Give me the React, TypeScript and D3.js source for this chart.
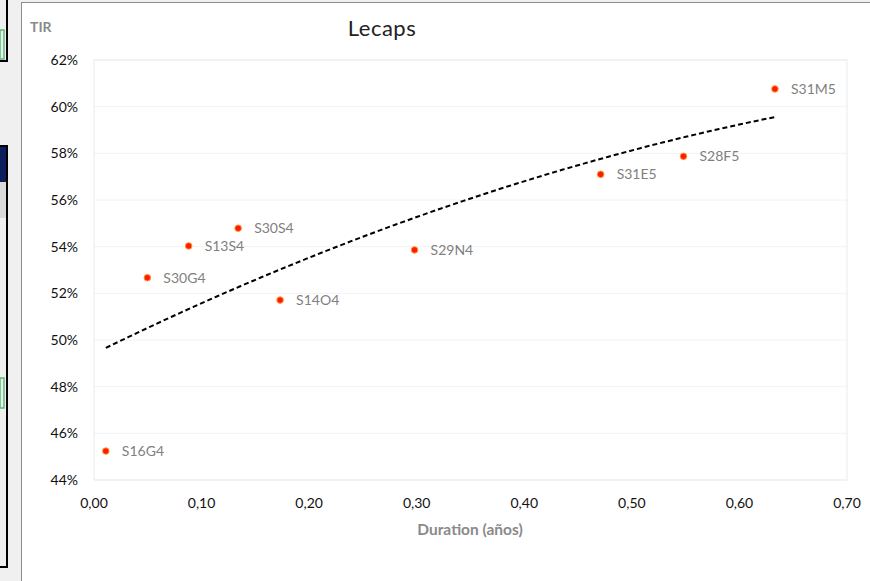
import React from "react";
import * as d3 from "d3";

const labels = ["S16G4", "S30G4", "S13S4", "S30S4", "S14O4", "S29N4", "S31E5", "S28F5", "S31M5"];
const duration = [0.011, 0.0496, 0.088, 0.134, 0.173, 0.298, 0.471, 0.548, 0.633];
const tir = [45.24, 52.67, 54.03, 54.79, 51.71, 53.86, 57.1, 57.87, 60.76];
const xTicks = [0, 0.1, 0.2, 0.3, 0.4, 0.5, 0.6, 0.7];
const yTicks = [44, 46, 48, 50, 52, 54, 56, 58, 60, 62];

// quadratic least-squares trendline computed from the data (as Excel does)
function quadFit(xs: number[], ys: number[]) {
  const n = xs.length;
  let s1 = 0, s2 = 0, s3 = 0, s4 = 0, t0 = 0, t1 = 0, t2 = 0;
  for (let i = 0; i < n; i++) {
    const x = xs[i], y = ys[i];
    s1 += x; s2 += x * x; s3 += x * x * x; s4 += x * x * x * x;
    t0 += y; t1 += x * y; t2 += x * x * y;
  }
  const M = [
    [n, s1, s2, t0],
    [s1, s2, s3, t1],
    [s2, s3, s4, t2],
  ];
  for (let i = 0; i < 3; i++) {
    for (let k = i + 1; k < 3; k++) {
      const f = M[k][i] / M[i][i];
      for (let j = i; j < 4; j++) M[k][j] -= f * M[i][j];
    }
  }
  const c = [0, 0, 0];
  for (let i = 2; i >= 0; i--) {
    let s = M[i][3];
    for (let j = i + 1; j < 3; j++) s -= M[i][j] * c[j];
    c[i] = s / M[i][i];
  }
  return (x: number) => c[0] + c[1] * x + c[2] * x * x;
}

export default function App() {
  const W = 870, H = 581;
  const x = d3.scaleLinear().domain([0, 0.7]).range([94, 847]);
  const y = d3.scaleLinear().domain([44, 62]).range([480, 60]);
  const f = quadFit(duration, tir);
  const xmin = d3.min(duration)!, xmax = d3.max(duration)!;
  const trendPts = d3.range(0, 61).map((i) => {
    const xv = xmin + ((xmax - xmin) * i) / 60;
    return [xv, f(xv)] as [number, number];
  });
  const line = d3.line<[number, number]>().x((d) => x(d[0])).y((d) => y(d[1]));
  const font = "Lato, 'Open Sans', sans-serif";
  const fmtX = (v: number) => v.toFixed(2).replace(".", ",");

  return (
    <svg width={W} height={H} style={{ position: "absolute", left: 0, top: 0 }} fontFamily={font}>
      {/* spreadsheet background on the left */}
      <rect x={0} y={0} width={W} height={H} fill="#f0f0f0" />
      <rect x={0} y={30} width={4} height={29} fill="#e6f4ea" stroke="#5cb87a" strokeWidth={1.5} />
      <path d="M7,0 V61 H0" fill="none" stroke="#000" strokeWidth={2} />
      <rect x={0} y={146} width={7} height={36} fill="#0b1f5c" />
      <rect x={0} y={182} width={7} height={36} fill="#d9d9d9" />
      <path d="M0,146 H7 V567 H0" fill="none" stroke="#000" strokeWidth={2} />
      <rect x={0} y={378} width={4} height={30} fill="#e6f4ea" stroke="#5cb87a" strokeWidth={1.5} />

      {/* chart area */}
      <rect x={21.5} y={2.5} width={W} height={H} fill="#fff" stroke="#8c8c8c" strokeWidth={1} />

      {/* gridlines */}
      {yTicks.map((t) => (
        <line key={t} x1={x(0)} x2={x(0.7)} y1={y(t)} y2={y(t)} stroke="#f0f2f7" strokeWidth={1} />
      ))}
      <rect x={x(0)} y={y(62)} width={x(0.7) - x(0)} height={y(44) - y(62)} fill="none" stroke="#e8ebf3" strokeWidth={1} />

      {/* y tick labels */}
      {yTicks.map((t) => (
        <text key={t} x={78} y={y(t)} dy="0.35em" textAnchor="end" fontSize={14} fill="#111">
          {t}%
        </text>
      ))}
      {/* x tick labels */}
      {xTicks.map((t) => (
        <text key={t} x={x(t)} y={508} textAnchor="middle" fontSize={14} fill="#111">
          {fmtX(t)}
        </text>
      ))}

      {/* trendline */}
      <path d={line(trendPts) || ""} fill="none" stroke="#000" strokeWidth={2} strokeDasharray="5,3" />

      {/* points */}
      {duration.map((d, i) => (
        <g key={labels[i]}>
          <circle cx={x(d)} cy={y(tir[i])} r={3.3} fill="#ff1a00" stroke="#ff9a3c" strokeWidth={1} />
          <text x={x(d) + 16} y={y(tir[i])} dy="0.35em" fontSize={14} fill="#7f7f7f">
            {labels[i]}
          </text>
        </g>
      ))}

      {/* titles */}
      <text x={382} y={36} textAnchor="middle" fontSize={22} fill="#222" letterSpacing={0.5}>Lecaps</text>
      <text x={30} y={32} fontSize={14} fontWeight="bold" fill="#8a8a8a">TIR</text>
      <text x={470} y={535} textAnchor="middle" fontSize={15.5} fontWeight="bold" fill="#8a8a8a">
        Duration (años)
      </text>
    </svg>
  );
}
